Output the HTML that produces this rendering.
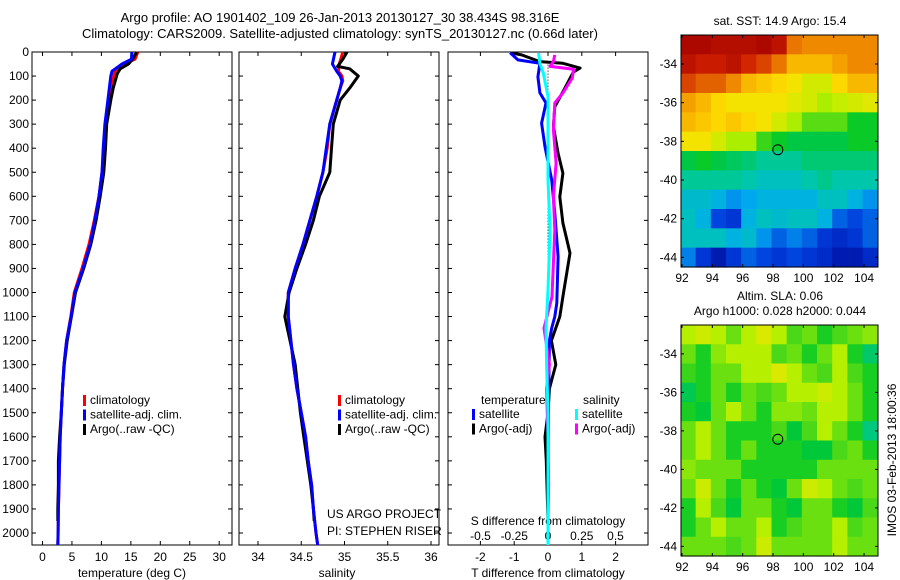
<!DOCTYPE html>
<html><head><meta charset="utf-8"><style>
html,body{margin:0;padding:0;background:#fff}
svg{display:block;font-family:"Liberation Sans",sans-serif}
</style></head><body>
<svg id="c" width="900" height="580" viewBox="0 0 900 580"></svg>
<script>
// ---- profile data ----
const tClimDepth=[0,30,50,80,100,200,300,400,500,600,700,800,900,1000,1100,1200,1300,1400,1500,1600,1700,1800,1900,2000,2050];
const tClim=[16.2,15.7,13.7,12.3,12.1,11.3,10.8,10.5,10.1,9.6,8.8,7.9,6.7,5.4,4.8,4.1,3.65,3.4,3.2,3.0,2.9,2.8,2.7,2.65,2.6];
const tSat=[15.2,15.1,13.5,11.8,11.6,11.1,10.6,10.3,10.1,9.6,8.9,8.1,6.9,5.5,4.85,4.1,3.65,3.4,3.2,3.0,2.9,2.8,2.7,2.65,2.6];
const argoDepth=[0,30,50,70,90,150,200,300,400,500,600,700,800,900,1000,1100,1200,1300,1400,1500,1600,1700,1800,1900,1950];
const tArgo=[16.0,15.3,14.6,13.2,12.7,12.0,11.6,10.9,10.7,10.4,9.8,9.1,8.2,7.0,5.6,4.9,4.2,3.7,3.4,3.2,2.9,2.7,2.7,2.6,2.6];
const sClimDepth=[0,50,80,100,120,150,200,300,400,500,600,700,800,900,1000,1100,1200,1300,1400,1500,1600,1700,1800,1900,2000,2050];
const sClim=[34.98,34.94,34.93,34.97,34.98,34.95,34.91,34.83,34.80,34.75,34.68,34.60,34.52,34.43,34.35,34.35,34.38,34.41,34.45,34.50,34.55,34.58,34.62,34.64,34.67,34.69];
const sSat=[34.89,34.86,34.91,34.95,34.97,34.95,34.91,34.83,34.79,34.75,34.68,34.60,34.52,34.43,34.35,34.35,34.38,34.41,34.45,34.50,34.55,34.58,34.62,34.64,34.67,34.69];
const sArgoDepth=[0,30,60,70,100,150,200,300,400,500,600,700,800,900,1000,1100,1200,1300,1400,1500,1600,1700,1800,1900,1950];
const sArgo=[35.03,34.98,34.92,35.06,35.16,35.06,34.95,34.87,34.85,34.83,34.71,34.64,34.55,34.45,34.36,34.31,34.37,34.43,34.46,34.49,34.53,34.57,34.61,34.64,34.65];
// differences
const dTSatDepth=[3,33,47,103,170,212,296,394,532,670,851,1044,1100,1148,1200,1400,1700,2050];
const dTSat=[-1.12,-0.89,-0.24,-0.3,-0.24,-0.06,-0.19,-0.09,0.11,0.2,0.3,0.26,0.2,0.11,0.04,0.02,0.0,0.0];
const dTArgoDepth=[4,12,40,47,67,83,150,228,311,421,504,602,711,836,1017,1100,1200,1300,1400,1500,1600,1700,1950];
const dTArgo=[-1.07,-0.78,-0.24,0.44,0.95,0.75,0.5,0.2,0.16,0.3,0.44,0.35,0.44,0.65,0.44,0.35,0.1,0.23,0.04,0.0,-0.09,-0.05,0.0];
const dSArgoDepth=[12,40,60,72,108,170,212,323,462,602,740,1017,1148,1300,1400,1600,1800,1950];
const dSArgo=[0.05,0.04,0.015,0.19,0.18,0.11,0.05,0.04,0.06,0.04,0.05,0.03,-0.03,0.01,-0.01,0.0,0.005,0.0];
const dSSatDepth=[4,47,88,185,324,532,740,990,1148,1300,1500,2050];
const dSSat=[-0.07,-0.06,-0.035,0.0,0.0,0.0,0.015,0.0,-0.015,-0.01,0.0,0.0];
const depthTicks=[0,100,200,300,400,500,600,700,800,900,1000,1100,1200,1300,1400,1500,1600,1700,1800,1900,2000];
const tTicks=[0,5,10,15,20,25,30];
const sTicks=[34,34.5,35,35.5,36];
const sTickLabels=["34","34.5","35","35.5","36"];
const dTTicks=[-2,-1,0,1,2];
const dSTicks=[-0.5,-0.25,0,0.25,0.5];
const dSTickLabels=["-0.5","-0.25","0","0.25","0.5"];
// maps: colour index (0..1), rows lat -33..-44, cols lon 92..104
const sstGrid=[
[.97,.97,.95,.95,.95,.97,.93,.8,.78,.78,.78,.78,.78],
[.93,.9,.9,.93,.88,.85,.8,.72,.72,.72,.75,.78,.78],
[.85,.82,.82,.78,.72,.7,.68,.65,.6,.6,.68,.72,.72],
[.75,.72,.68,.65,.65,.65,.65,.62,.6,.55,.58,.6,.62],
[.72,.7,.68,.7,.68,.65,.6,.55,.5,.5,.5,.45,.45],
[.65,.65,.6,.55,.55,.48,.45,.42,.42,.42,.42,.45,.45],
[.42,.45,.42,.4,.38,.35,.35,.35,.38,.38,.38,.38,.38],
[.35,.35,.35,.35,.33,.3,.3,.3,.33,.36,.33,.33,.33],
[.28,.28,.25,.2,.22,.25,.25,.25,.25,.3,.3,.25,.2],
[.3,.25,.12,.1,.25,.3,.28,.3,.3,.25,.15,.12,.15],
[.3,.3,.3,.25,.28,.2,.15,.18,.15,.1,.08,.1,.15],
[.18,.1,.05,.1,.15,.12,.1,.12,.1,.08,.05,.05,.08]];
const slaGrid=[
[.55,.58,.55,.5,.55,.6,.55,.48,.5,.45,.48,.5,.52],
[.5,.45,.52,.55,.55,.55,.48,.5,.45,.5,.55,.45,.38],
[.47,.45,.5,.5,.55,.55,.6,.55,.5,.48,.55,.48,.45],
[.4,.45,.5,.45,.5,.48,.5,.55,.55,.58,.55,.5,.45],
[.45,.42,.5,.55,.5,.45,.52,.52,.5,.55,.55,.5,.45],
[.5,.55,.5,.45,.45,.45,.48,.42,.48,.55,.5,.45,.36],
[.5,.55,.5,.45,.5,.45,.45,.45,.42,.42,.48,.5,.45],
[.52,.5,.5,.5,.45,.45,.45,.45,.45,.5,.5,.5,.5],
[.5,.58,.5,.45,.5,.45,.42,.5,.58,.55,.5,.48,.5],
[.45,.55,.48,.42,.5,.5,.45,.42,.5,.5,.45,.42,.48],
[.45,.5,.55,.5,.5,.55,.45,.48,.5,.5,.55,.48,.5],
[.5,.5,.5,.48,.5,.58,.5,.5,.5,.5,.55,.5,.5]];
const lonTicks=[92,94,96,98,100,102,104];
const latTicks=[-34,-36,-38,-40,-42,-44];
const argoLon=98.316, argoLat=-38.434;

const svg=document.getElementById('c');
const NS='http://www.w3.org/2000/svg';
function mk(tag,attrs,parent){const e=document.createElementNS(NS,tag);for(const k in attrs)e.setAttribute(k,attrs[k]);(parent||svg).appendChild(e);return e;}
function txt(x,y,s,anchor,size,parent){const e=mk('text',{x:x,y:y,'font-size':size||12,'text-anchor':anchor||'middle',fill:'#000'},parent);e.textContent=s;return e;}
const yD=d=>52+d*0.2405;
const PB=545;
const xT=t=>42.5+t*5.89;
const xS=s=>258+(s-34)*86.5;
const xDT=t=>548+t*33.8;
const xDS=s=>548+s*135;

function panel(name,x0,x1){
  const g=mk('g',{});
  
  
  mk('rect',{x:x0,y:52,width:x1-x0,height:PB-52,fill:'none',stroke:'#000','stroke-width':1},g);
  depthTicks.forEach(d=>{mk('line',{x1:x0,x2:x0+4,y1:yD(d),y2:yD(d),stroke:'#000'},g);mk('line',{x1:x1-4,x2:x1,y1:yD(d),y2:yD(d),stroke:'#000'},g);});
  return g;
}
function xticks(g,ticks,labels,fx,ly){ticks.forEach((t,i)=>{const x=fx(t);mk('line',{x1:x,x2:x,y1:PB,y2:PB-4,stroke:'#000'},g);mk('line',{x1:x,x2:x,y1:52,y2:56,stroke:'#000'},g);txt(x,ly,labels[i],'middle',12,g);});}
function line(g,name,depths,vals,fx,color){
  const p=depths.map((d,i)=>fx(vals[i]).toFixed(1)+','+yD(d).toFixed(1)).join(' ');
  const e=mk('polyline',{points:p,fill:'none',stroke:color,'stroke-width':3,'stroke-linejoin':'round'},g);
  
  
}
function legend(g,x,y,items){items.forEach((it,i)=>{mk('rect',{x:x,y:y+i*14.5-9,width:3,height:11,fill:it[0]},g);txt(x+7,y+i*14.5,it[1],'start',12,g);});}

// titles
const t1=txt(340,22,'Argo profile: AO 1901402_109 26-Jan-2013 20130127_30 38.434S 98.316E','middle',13);

const t2=txt(340,38,'Climatology: CARS2009. Satellite-adjusted climatology: synTS_20130127.nc (0.66d later)','middle',13);


// panel 1
const g1=panel('temperature-panel',32,232);
depthTicks.forEach(d=>txt(29,yD(d)+4,String(d),'end',12,g1));
xticks(g1,tTicks,tTicks.map(String),xT,561);
txt(132,577,'temperature (deg C)','middle',12,g1);
line(g1,'temperature-climatology-line',tClimDepth,tClim,xT,'#f00');
line(g1,'temperature-argo-line',argoDepth,tArgo,xT,'#000');
line(g1,'temperature-satellite-line',tClimDepth,tSat,xT,'#00f');
legend(g1,83,404,[['#f00','climatology'],['#00f','satellite-adj. clim.'],['#000','Argo(..raw -QC)']]);

// panel 2
const g2=panel('salinity-panel',239,439);
xticks(g2,sTicks,sTickLabels,xS,561);
txt(337,577,'salinity','middle',12,g2);
line(g2,'salinity-climatology-line',sClimDepth,sClim,xS,'#f00');
line(g2,'salinity-argo-line',sArgoDepth,sArgo,xS,'#000');
line(g2,'salinity-satellite-line',sClimDepth,sSat,xS,'#00f');
legend(g2,338,404,[['#f00','climatology'],['#00f','satellite-adj. clim.'],['#000','Argo(..raw -QC)']]);
txt(327,518,'US ARGO PROJECT','start',12,g2);
txt(327,535,'PI: STEPHEN RISER','start',12,g2);

// panel 3
const g3=panel('difference-panel',448,648);
xticks(g3,dTTicks,dTTicks.map(String),xDT,561);
dSTicks.forEach((s,i)=>txt(xDS(s),540,dSTickLabels[i],'middle',12,g3));
txt(548,525,'S difference from climatology','middle',12,g3);
txt(548,577,'T difference from climatology','middle',12,g3);
mk('line',{x1:548,x2:548,y1:yD(40),y2:yD(900),stroke:'#000','stroke-dasharray':'1,2'},g3);
line(g3,'t-diff-argo-line',dTArgoDepth,dTArgo,xDT,'#000');
line(g3,'t-diff-satellite-line',dTSatDepth,dTSat,xDT,'#00f');
line(g3,'s-diff-argo-line',dSArgoDepth,dSArgo,xDS,'#f0f');
line(g3,'s-diff-satellite-line',dSSatDepth,dSSat,xDS,'#0ff');
txt(481,404,'temperature','start',12,g3);
txt(583,404,'salinity','start',12,g3);
legend(g3,472,418,[['#00f','satellite'],['#000','Argo(-adj)']]);
legend(g3,575,418,[['#0ff','satellite'],['#f0f','Argo(-adj)']]);

// maps
const cmapStops=[[0,0,140],[0,60,220],[0,170,240],[0,200,170],[0,200,40],[180,240,0],[255,225,0],[240,140,0],[205,30,0],[160,0,0]];
function cmap(t){
  t=Math.max(0,Math.min(1,t))*(cmapStops.length-1);
  const i=Math.min(cmapStops.length-2,Math.floor(t)),f=t-i;
  const a=cmapStops[i],b=cmapStops[i+1];
  return `rgb(${Math.round(a[0]+(b[0]-a[0])*f)},${Math.round(a[1]+(b[1]-a[1])*f)},${Math.round(a[2]+(b[2]-a[2])*f)})`;
}
function map(name,grid,top,bottom,title,shift){
  const L=681,R=878;
  const xL=lon=>682+(lon-92)*15.17;
  const yL=lat=>top+(lat+32.5)/(-12)*(bottom-top);
  const g=mk('g',{});
  
  
  grid.forEach((row,r)=>row.forEach((v,c)=>{
    const x0=Math.max(L,xL(91.9+c)),x1=Math.min(R,xL(92.9+c));
    const cell=mk('rect',{x:x0,y:yL(-32.5-r),width:x1-x0+0.6,height:yL(-33.5-r)-yL(-32.5-r)+0.6,fill:cmap(v+shift)},g);
    
    
  }));
  mk('rect',{x:L,y:top,width:R-L,height:bottom-top,fill:'none',stroke:'#000'},g);
  lonTicks.forEach(l=>{const x=xL(l);mk('line',{x1:x,x2:x,y1:bottom,y2:bottom-3,stroke:'#000'},g);mk('line',{x1:x,x2:x,y1:top,y2:top+3,stroke:'#000'},g);txt(x,bottom+15,String(l),'middle',12,g);});
  latTicks.forEach(l=>{const y=yL(l);mk('line',{x1:L,x2:L+3,y1:y,y2:y,stroke:'#000'},g);mk('line',{x1:R-3,x2:R,y1:y,y2:y,stroke:'#000'},g);txt(677,y+4,String(l),'end',12,g);});
  const ci=mk('circle',{cx:xL(argoLon),cy:yL(argoLat),r:5,fill:'none',stroke:'#000'},g);
  
  
  title.forEach((s,i)=>txt(780,top-(title.length-1-i)*15-10,s,'middle',12,g));
}
map('sst-map',sstGrid,35,267,['sat. SST: 14.9 Argo: 15.4'],0);
map('sla-map',slaGrid,325,556,['Altim. SLA: 0.06','Argo h1000: 0.028 h2000: 0.044'],0.01);
const v=txt(0,0,'IMOS 03-Feb-2013 18:00:36','middle',12);
v.setAttribute('transform','translate(896,460) rotate(-90)');


</script>
</body></html>
